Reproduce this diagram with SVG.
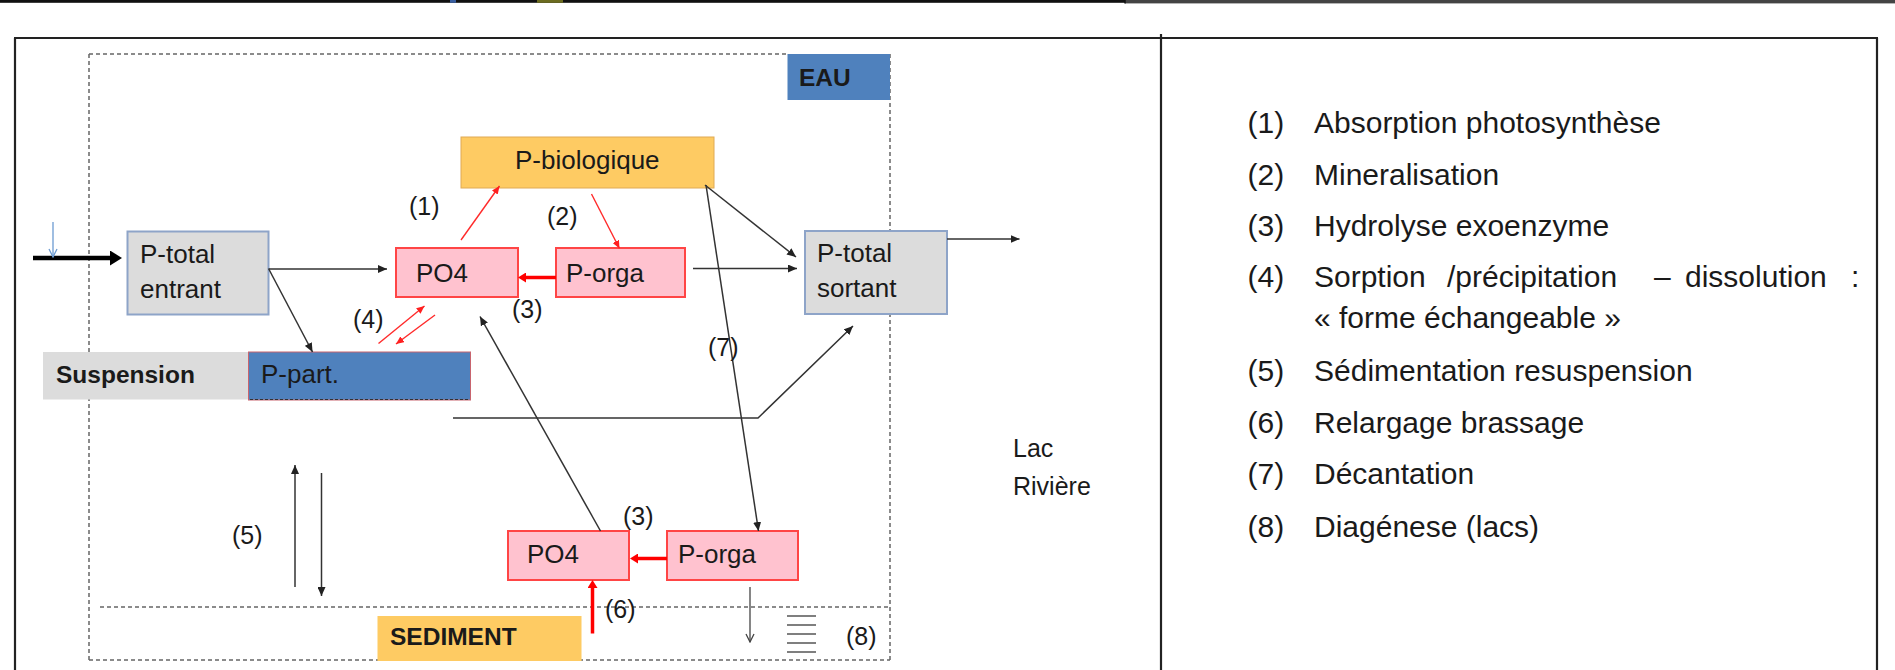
<svg xmlns="http://www.w3.org/2000/svg" width="1895" height="670" viewBox="0 0 1895 670">
<style>
text{font-family:"Liberation Sans",Arial,sans-serif;fill:#1a1a1a}
.bx{font-size:26px}
.bd{font-size:24.5px;font-weight:bold}
.lb{font-size:25px}
.lg{font-size:30px}
.grey{fill:#dcdcdc;stroke:#8ea4c8;stroke-width:2}
.pink{fill:#ffc2cf;stroke:#ff4545;stroke-width:2}
.dash{fill:none;stroke:#666;stroke-width:1.5;stroke-dasharray:4 3}
.k{fill:none;stroke:#333;stroke-width:1.5}
.r{fill:none;stroke:#ff2a2a;stroke-width:1.4}
.rt{fill:none;stroke:#ff0000;stroke-width:3.5}
.frame{stroke:#222;stroke-width:2.2;fill:none}
</style>
<defs>
<marker id="ak" markerUnits="userSpaceOnUse" viewBox="0 0 9 8" markerWidth="9" markerHeight="8" refX="9" refY="4" orient="auto"><path d="M0,0 L9,4 L0,8 z" fill="#222"/></marker>
<marker id="ar" markerUnits="userSpaceOnUse" viewBox="0 0 8 7" markerWidth="8" markerHeight="7" refX="8" refY="3.5" orient="auto"><path d="M0,0 L8,3.5 L0,7 z" fill="#ff2020"/></marker>
<marker id="art" markerUnits="userSpaceOnUse" viewBox="0 0 8 10" markerWidth="8" markerHeight="10" refX="1" refY="5" orient="auto"><path d="M0,0 L8,5 L0,10 z" fill="#ff0000"/></marker>
<marker id="abig" markerUnits="userSpaceOnUse" viewBox="0 0 12 15" markerWidth="12" markerHeight="15" refX="1" refY="7.5" orient="auto"><path d="M0,0 L12,7.5 L0,15 z" fill="#000"/></marker>
<marker id="avk" markerUnits="userSpaceOnUse" viewBox="0 0 10 10" markerWidth="10" markerHeight="10" refX="9" refY="5" orient="auto"><path d="M1,1 L9,5 L1,9" fill="none" stroke="#444" stroke-width="1.3"/></marker>
<marker id="avb" markerUnits="userSpaceOnUse" viewBox="0 0 10 10" markerWidth="10" markerHeight="10" refX="9" refY="5" orient="auto"><path d="M1,1 L9,5 L1,9" fill="none" stroke="#6c9bd2" stroke-width="1.3"/></marker>
</defs>

<rect width="1895" height="670" fill="#fff"/>

<g id="frame">
<rect x="0" y="0" width="1125" height="2.8" fill="#111"/>
<rect x="1125" y="0" width="770" height="3.4" fill="#444"/>
<rect x="450" y="0" width="6" height="2.8" fill="#3a5fa0"/>
<rect x="537" y="0" width="26" height="2.8" fill="#6b6b20"/>
<line x1="1125" y1="0" x2="1125" y2="3.4" stroke="#111" stroke-width="1.5"/>
<path class="frame" d="M14,38 H1878 M15,38 V670 M1161,34 V670 M1877,38 V670"/>
</g>

<g id="zones">
<path class="dash" d="M89,54 H788 M89,54 V660 M890,54 V660 M89,660 H890 M100,607 H890"/>
</g>

<g id="eau">
<rect x="787.5" y="54" width="102.5" height="46" fill="#4f81bd"/>
<text class="bd" x="799" y="86">EAU</text>
</g>

<g id="ptotal-entrant">
<rect class="grey" x="127.5" y="231.5" width="141" height="83"/>
<text class="bx" x="140" y="263">P-total</text>
<text class="bx" x="140" y="298">entrant</text>
</g>

<g id="pbiologique">
<rect x="461" y="137" width="253" height="51" fill="#fecb63" stroke="#e0aa55" stroke-width="1"/>
<text class="bx" x="515" y="169">P-biologique</text>
</g>

<g id="po4-eau">
<rect class="pink" x="396" y="248" width="122" height="49"/>
<text class="bx" x="416" y="282">PO4</text>
</g>

<g id="porga-eau">
<rect class="pink" x="556" y="248" width="129" height="49"/>
<text class="bx" x="566" y="282">P-orga</text>
</g>

<g id="ptotal-sortant">
<rect class="grey" x="805" y="231" width="142" height="83"/>
<text class="bx" x="817" y="262">P-total</text>
<text class="bx" x="817" y="297">sortant</text>
</g>

<g id="suspension">
<rect x="43" y="352" width="205.5" height="47.5" fill="#dcdcdc"/>
<text class="bd" x="56" y="383">Suspension</text>
</g>

<g id="ppart">
<rect x="248.5" y="352" width="222" height="48" fill="#4f81bd" stroke="#c8646e" stroke-width="1"/>
<line x1="250" y1="399.5" x2="470" y2="399.5" stroke="#333" stroke-width="1.2" stroke-dasharray="3 2"/>
<text class="bx" x="261" y="383">P-part.</text>
</g>

<g id="sediment">
<rect x="377.5" y="616" width="204" height="45" fill="#fecb63"/>
<text class="bd" x="390" y="645">SEDIMENT</text>
</g>

<g id="po4-sed">
<rect class="pink" x="508" y="531" width="121" height="49"/>
<text class="bx" x="527" y="563">PO4</text>
</g>

<g id="porga-sed">
<rect class="pink" x="667" y="531" width="131" height="49"/>
<text class="bx" x="678" y="563">P-orga</text>
</g>

<g id="diagenese">
<path d="M787,616 H816 M787,625 H816 M787,634 H816 M787,643 H816 M787,652 H816" stroke="#555" stroke-width="1.5" fill="none"/>
</g>

<g id="connectors">
<line x1="33" y1="258" x2="111" y2="258" stroke="#000" stroke-width="4.5" marker-end="url(#abig)"/>
<line x1="53" y1="222" x2="53" y2="257" stroke="#6c9bd2" stroke-width="1.3" marker-end="url(#avb)"/>
<line class="k" x1="269" y1="269" x2="387" y2="269" marker-end="url(#ak)"/>
<line class="k" x1="268.5" y1="268.5" x2="312.5" y2="352" marker-end="url(#ak)"/>
<line class="r" x1="461" y1="240" x2="499.5" y2="186" marker-end="url(#ar)"/>
<line class="r" x1="591.5" y1="194" x2="619.5" y2="248.5" marker-end="url(#ar)"/>
<line class="rt" x1="556" y1="277.5" x2="525" y2="277.5" marker-end="url(#art)"/>
<line class="k" x1="705" y1="185" x2="796" y2="257" marker-end="url(#ak)"/>
<line class="k" x1="706" y1="185" x2="758.5" y2="531" marker-end="url(#ak)"/>
<line class="k" x1="693" y1="268.5" x2="797" y2="268.5" marker-end="url(#ak)"/>
<line class="k" x1="947" y1="239" x2="1019.5" y2="239" marker-end="url(#ak)"/>
<line class="r" x1="378.5" y1="343.5" x2="424.5" y2="306" marker-end="url(#ar)"/>
<line class="r" x1="435" y1="315" x2="396" y2="344" marker-end="url(#ar)"/>
<line class="k" x1="600.5" y1="531" x2="480" y2="316.5" marker-end="url(#ak)"/>
<polyline class="k" points="453,418 758,418 853,326" marker-end="url(#ak)"/>
<line class="k" x1="295" y1="587" x2="295" y2="465" marker-end="url(#ak)"/>
<line class="k" x1="321.5" y1="473" x2="321.5" y2="596" marker-end="url(#ak)"/>
<line class="rt" x1="667" y1="558.5" x2="637" y2="558.5" marker-end="url(#art)"/>
<line class="rt" x1="592.5" y1="633.5" x2="592.5" y2="587" marker-end="url(#art)"/>
<line x1="750" y1="587" x2="750" y2="642" stroke="#444" stroke-width="1.3" marker-end="url(#avk)"/>
</g>

<g id="labels">
<text class="lb" x="409" y="215">(1)</text>
<text class="lb" x="547" y="225">(2)</text>
<text class="lb" x="512" y="318">(3)</text>
<text class="lb" x="353" y="328">(4)</text>
<text class="lb" x="232" y="544">(5)</text>
<text class="lb" x="623" y="525">(3)</text>
<text class="lb" x="605" y="618">(6)</text>
<text class="lb" x="708" y="356">(7)</text>
<text class="lb" x="846" y="645">(8)</text>
<text class="lb" x="1013" y="457">Lac</text>
<text class="lb" x="1013" y="495">Rivière</text>
</g>

<g id="legend">
<text class="lg" x="1247.5" y="133">(1)</text><text class="lg" x="1314" y="133">Absorption photosynthèse</text>
<text class="lg" x="1247.5" y="185">(2)</text><text class="lg" x="1314" y="185">Mineralisation</text>
<text class="lg" x="1247.5" y="236">(3)</text><text class="lg" x="1314" y="236">Hydrolyse exoenzyme</text>
<text class="lg" x="1247.5" y="287">(4)</text><text class="lg" y="287"><tspan x="1314">Sorption</tspan><tspan x="1447">/précipitation</tspan><tspan x="1654">–</tspan><tspan x="1685">dissolution</tspan><tspan x="1851">:</tspan></text>
<text class="lg" x="1314" y="328">« forme échangeable »</text>
<text class="lg" x="1247.5" y="381">(5)</text><text class="lg" x="1314" y="381">Sédimentation resuspension</text>
<text class="lg" x="1247.5" y="433">(6)</text><text class="lg" x="1314" y="433">Relargage brassage</text>
<text class="lg" x="1247.5" y="484">(7)</text><text class="lg" x="1314" y="484">Décantation</text>
<text class="lg" x="1247.5" y="537">(8)</text><text class="lg" x="1314" y="537">Diagénese (lacs)</text>
</g>
</svg>
